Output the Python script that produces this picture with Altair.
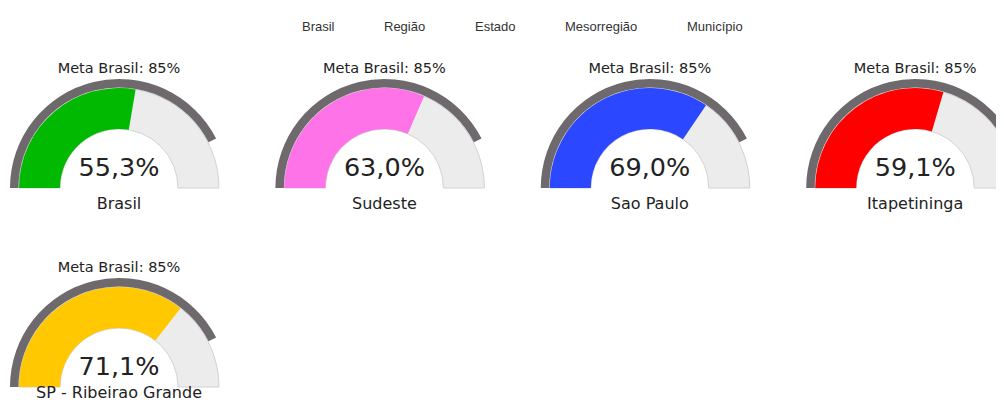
import math
import altair as alt
import pandas as pd

# ---- data ----
names = ["Brasil", "Sudeste", "Sao Paulo", "Itapetininga", "SP - Ribeirao Grande"]
levels = ["Brasil", "Região", "Estado", "Mesorregião", "Município"]
values = [55.3, 63.0, 69.0, 59.1, 71.1]
meta = 85
level_colors = ["#00b900", "#ff73e8", "#2b47ff", "#ff0000", "#ffc800"]

df = pd.DataFrame({
    "name": names,
    "level": levels,
    "value": values,
    "slot": list(range(len(names))),
})
df["meta"] = meta
df["t0"] = 0
df["t100"] = 100
df["value_label"] = [f"{v:.1f}".replace(".", ",") + "%" for v in values]
df["meta_label"] = f"Meta Brasil: {meta}%"

W, H = 988, 394
PER_ROW = 4

base = alt.Chart(df).transform_calculate(
    col=f"datum.slot % {PER_ROW}",
    row=f"floor(datum.slot / {PER_ROW})",
)

xenc = alt.X("col:Q", scale=alt.Scale(domain=[0, 3], range=[111, 907.2]), axis=None)
yenc = alt.Y("row:Q", scale=alt.Scale(domain=[0, 1], range=[180, 379]), axis=None)
tscale = alt.Scale(domain=[0, 100], range=[-math.pi / 2, math.pi / 2])

bg = base.mark_arc(innerRadius=59, outerRadius=100, fill="#ececec",
                   stroke="#d2d2d2", strokeWidth=1).encode(
    x=xenc, y=yenc,
    theta=alt.Theta("t0:Q", scale=tscale),
    theta2="t100:Q",
)

val = base.mark_arc(innerRadius=59, outerRadius=100).encode(
    x=xenc, y=yenc,
    theta=alt.Theta("t0:Q", scale=tscale),
    theta2="value:Q",
    color=alt.Color(
        "level:N",
        scale=alt.Scale(domain=levels, range=level_colors),
        legend=alt.Legend(
            title=None, orient="none", legendX=276, legendY=12,
            direction="horizontal", columns=5,
            symbolOpacity=0, symbolStrokeWidth=0, symbolSize=100,
            labelOffset=5, columnPadding=31, padding=0,
            labelFont="Liberation Sans", labelFontSize=13, labelColor="#333333",
        ),
    ),
)

goal = base.mark_arc(innerRadius=100.5, outerRadius=109, fill="#6e696c").encode(
    x=xenc, y=yenc,
    theta=alt.Theta("t0:Q", scale=tscale),
    theta2="meta:Q",
)

txt = dict(font="DejaVu Sans", color="#222222", baseline="alphabetic")
meta_t = base.mark_text(dy=-115, fontSize=14.5, **txt).encode(
    x=xenc, y=yenc, text="meta_label:N")
val_t = base.mark_text(dy=-12, fontSize=25.5, **txt).encode(
    x=xenc, y=yenc, text="value_label:N")
name_t1 = base.transform_filter("datum.row == 0").mark_text(
    dy=21, fontSize=16, **txt).encode(x=xenc, y=yenc, text="name:N")
name_t2 = base.transform_filter("datum.row > 0").mark_text(
    dy=11, fontSize=16, **txt).encode(x=xenc, y=yenc, text="name:N")

chart = alt.layer(bg, val, goal, meta_t, val_t, name_t1, name_t2).properties(
    width=W, height=H, padding=0, background="white",
    autosize=alt.AutoSizeParams(type="none"),
).configure_view(stroke=None)

chart.save("out.html", embed_options={"renderer": "svg", "actions": False})
